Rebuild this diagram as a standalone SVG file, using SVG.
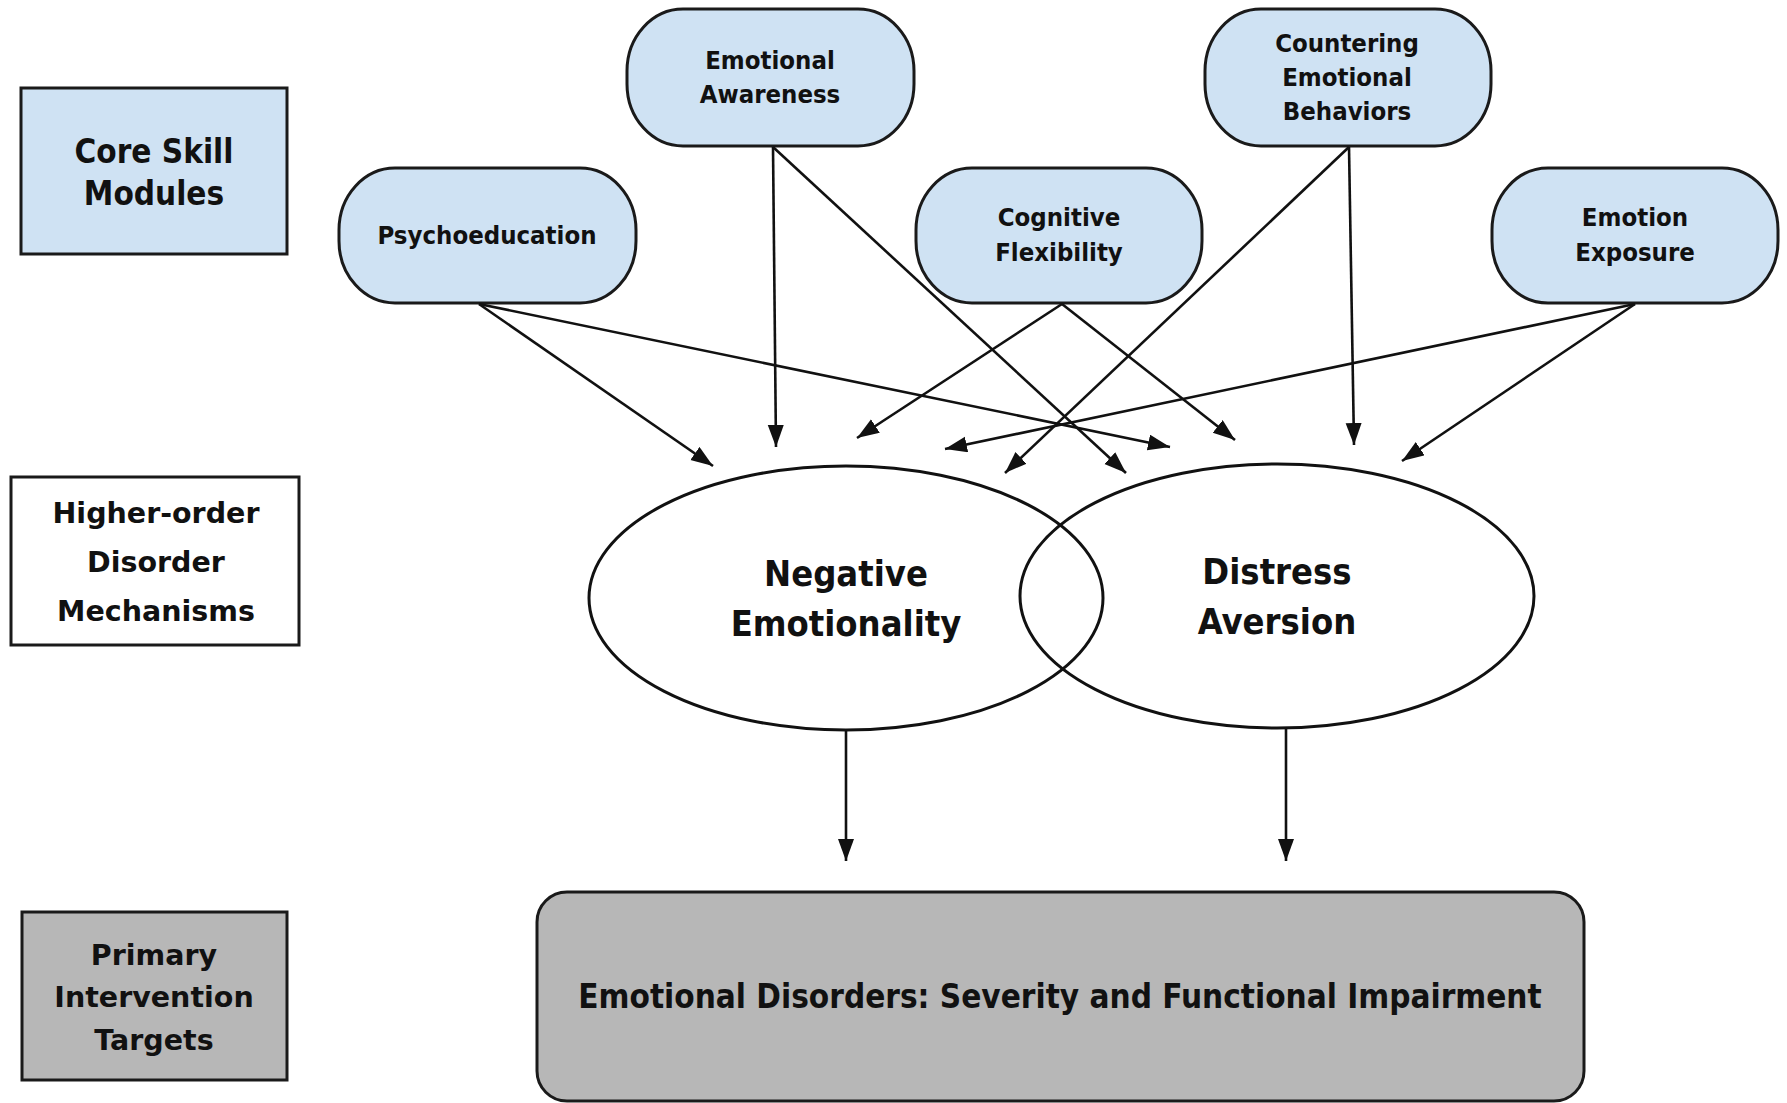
<svg xmlns="http://www.w3.org/2000/svg" width="1787" height="1103" viewBox="0 0 1787 1103">
<style>
.lbl{stroke:#1a1a1a;stroke-width:3}
.mod{fill:#cfe2f3;stroke:#1a1a1a;stroke-width:3}
.ell{fill:#fff;fill-opacity:0;stroke:#111;stroke-width:3}
.cond{font-family:"DejaVu Sans Condensed","DejaVu Sans",sans-serif;font-stretch:condensed;font-weight:bold;fill:#111;text-anchor:middle}
.wide{font-family:"DejaVu Sans",Verdana,sans-serif;font-weight:bold;fill:#111;text-anchor:middle}
.conn line{stroke:#111;stroke-width:2.6;marker-end:url(#ah)}
</style>
<defs>
<marker id="ah" markerUnits="userSpaceOnUse" markerWidth="24" markerHeight="18" refX="22" refY="8" orient="auto" viewBox="0 0 24 18">
<path d="M0,0 L22,8 L0,16 z" fill="#111"/>
</marker>
</defs>
<rect width="1787" height="1103" fill="#fff"/>

<g id="label-core">
<rect class="lbl" x="21" y="88" width="266" height="166" fill="#cfe2f3"/>
<text class="cond" x="154" y="163" font-size="33">Core Skill</text>
<text class="cond" x="154" y="205" font-size="33">Modules</text>
</g>
<g id="label-higher">
<rect class="lbl" x="11" y="477" width="288" height="168" fill="#fff"/>
<text class="wide" x="156" y="523" font-size="28.5">Higher-order</text>
<text class="wide" x="156" y="572" font-size="28.5">Disorder</text>
<text class="wide" x="156" y="621" font-size="28.5">Mechanisms</text>
</g>
<g id="label-primary">
<rect class="lbl" x="22" y="912" width="265" height="168" fill="#b7b7b7"/>
<text class="wide" x="154" y="965" font-size="28.5">Primary</text>
<text class="wide" x="154" y="1007" font-size="28.5">Intervention</text>
<text class="wide" x="154" y="1050" font-size="28.5">Targets</text>
</g>

<g id="node-emotional-awareness">
<rect class="mod" x="627" y="9" width="287" height="137" rx="56" ry="62"/>
<text class="cond" x="770" y="69" font-size="25.5">Emotional</text>
<text class="cond" x="770" y="103" font-size="25.5">Awareness</text>
</g>
<g id="node-countering">
<rect class="mod" x="1205" y="9" width="286" height="137" rx="56" ry="62"/>
<text class="cond" x="1347" y="52" font-size="25.5">Countering</text>
<text class="cond" x="1347" y="86" font-size="25.5">Emotional</text>
<text class="cond" x="1347" y="120" font-size="25.5">Behaviors</text>
</g>
<g id="node-psychoeducation">
<rect class="mod" x="339" y="168" width="297" height="135" rx="56" ry="62"/>
<text class="cond" x="487" y="244" font-size="25.5">Psychoeducation</text>
</g>
<g id="node-cognitive-flexibility">
<rect class="mod" x="916" y="168" width="286" height="135" rx="56" ry="62"/>
<text class="cond" x="1059" y="226" font-size="25.5">Cognitive</text>
<text class="cond" x="1059" y="261" font-size="25.5">Flexibility</text>
</g>
<g id="node-emotion-exposure">
<rect class="mod" x="1492" y="168" width="286" height="135" rx="56" ry="62"/>
<text class="cond" x="1635" y="226" font-size="25.5">Emotion</text>
<text class="cond" x="1635" y="261" font-size="25.5">Exposure</text>
</g>

<g id="node-negative-emotionality">
<ellipse class="ell" cx="846" cy="598" rx="257" ry="132"/>
<text class="cond" x="846" y="586" font-size="36">Negative</text>
<text class="cond" x="846" y="636" font-size="36">Emotionality</text>
</g>
<g id="node-distress-aversion">
<ellipse class="ell" cx="1277" cy="596" rx="257" ry="132"/>
<text class="cond" x="1277" y="584" font-size="36">Distress</text>
<text class="cond" x="1277" y="634" font-size="36">Aversion</text>
</g>

<g id="node-emotional-disorders">
<rect x="537" y="892" width="1047" height="209" rx="30" ry="30" fill="#b7b7b7" stroke="#1a1a1a" stroke-width="3"/>
<text class="cond" x="1060" y="1008" font-size="33">Emotional Disorders: Severity and Functional Impairment</text>
</g>

<g id="connectors" class="conn">
<line x1="479" y1="304" x2="713" y2="466"/>
<line x1="479" y1="304" x2="1170" y2="447"/>
<line x1="773" y1="147" x2="776" y2="447"/>
<line x1="773" y1="147" x2="1126" y2="473"/>
<line x1="1062" y1="304" x2="857" y2="438"/>
<line x1="1062" y1="304" x2="1235" y2="440"/>
<line x1="1349" y1="147" x2="1005" y2="473"/>
<line x1="1349" y1="147" x2="1354" y2="445"/>
<line x1="1635" y1="304" x2="945" y2="449"/>
<line x1="1635" y1="304" x2="1402" y2="461"/>
<line x1="846" y1="731" x2="846" y2="861"/>
<line x1="1286" y1="728" x2="1286" y2="861"/>
</g>
</svg>
